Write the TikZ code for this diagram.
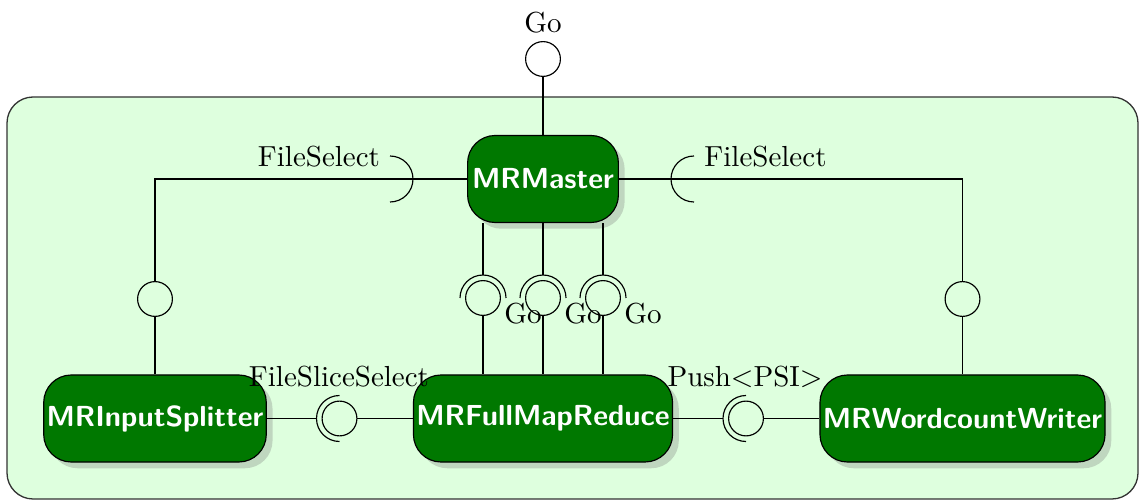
\documentclass[tikz,border=0pt]{standalone}
\usepackage{fontspec}
\usetikzlibrary{shadows,calc}
\definecolor{dkgreen}{RGB}{0,120,0}
\definecolor{bggreen}{RGB}{222,255,222}
\tikzset{
  comp/.style={draw, fill=dkgreen, text=white, font=\sffamily\bfseries,
    rounded corners=9.5pt, minimum height=30pt, minimum width=52pt,
    inner xsep=1pt, drop shadow={opacity=0.32}},
  ball/.style={draw, circle, minimum size=12pt, inner sep=0pt},
  lbl/.style={inner sep=0pt, font=\normalsize},
  wire/.style={line width=0.4pt},
  sock/.style={line width=0.4pt}
}
\begin{document}
\begin{tikzpicture}[x=0.3448pt, y=0.3448pt]
\useasboundingbox (0,0) rectangle (1139,501);
% container
\draw[fill=bggreen, draw=black!80, line width=0.45pt, rounded corners=9pt] (7,404) rectangle (1138,2);

% components
\node[comp] (master) at (543,322) {MRMaster};
\node[comp] (split) at (155,82.5) {MRInputSplitter};
\node[comp] (full) at (543,82.5) {MRFullMapReduce};
\node[comp] (writer) at (962.5,82.5) {MRWordcountWriter};

% top Go lollipop
\node[ball] (topball) at (543,442) {};
\node[lbl] (golbl) at (543,478.5) {Go};
\draw[wire] (topball.south) -- (master.north);

% FileSelect left
\node[ball] (lball) at (155,202) {};
\coordinate (lsock) at (390,322);
\draw[wire] (split.north) -- (lball.south);
\draw[wire] (lball.north) |- (master.west);
\draw[sock] ($(lsock)+(0,23)$) arc[start angle=90, end angle=-90, radius=23];
\node[lbl] (lfs) at (319,344) {FileSelect};

% FileSelect right
\node[ball] (rball) at (962.5,202) {};
\coordinate (rsock) at (694,322);
\draw[wire] (writer.north) -- (rball.south);
\draw[wire] (rball.north) |- (master.east);
\draw[sock] ($(rsock)+(0,23)$) arc[start angle=90, end angle=270, radius=23];
\node[lbl] (rfs) at (765.5,344) {FileSelect};

% three Go interfaces
\foreach \i/\dx in {1/-60, 2/0, 3/60} {
  \node[ball] (g\i) at (543+\dx,203) {};
  \coordinate (gs\i) at (543+\dx,226);
  \draw[wire] (master.south -| g\i) -- (gs\i);
  \draw[sock] ($(g\i)+(23,0)$) arc[start angle=0, end angle=180, radius=23];
  \draw[wire] (g\i.south) -- (full.north -| g\i);
  \node[lbl] (gl\i) at (583+\dx,187) {Go};
}

% FileSliceSelect
\node[ball] (fss) at (339.5,82.5) {};
\coordinate (fssock) at (316.5,82.5);
\draw[wire] (split.east) -- (fssock);
\draw[sock] ($(fss)+(0,23)$) arc[start angle=90, end angle=270, radius=23];
\draw[wire] (fss.east) -- (full.west);
\node[lbl] (fsslbl) at (339,124) {FileSliceSelect};

% Push<PSI>
\node[ball] (psi) at (746,82.5) {};
\coordinate (psisock) at (723,82.5);
\draw[wire] (full.east) -- (psisock);
\draw[sock] ($(psi)+(0,23)$) arc[start angle=90, end angle=270, radius=23];
\draw[wire] (psi.east) -- (writer.west);
\node[lbl] (psilbl) at (745,124) {Push$<$PSI$>$};
\end{tikzpicture}
\end{document}
